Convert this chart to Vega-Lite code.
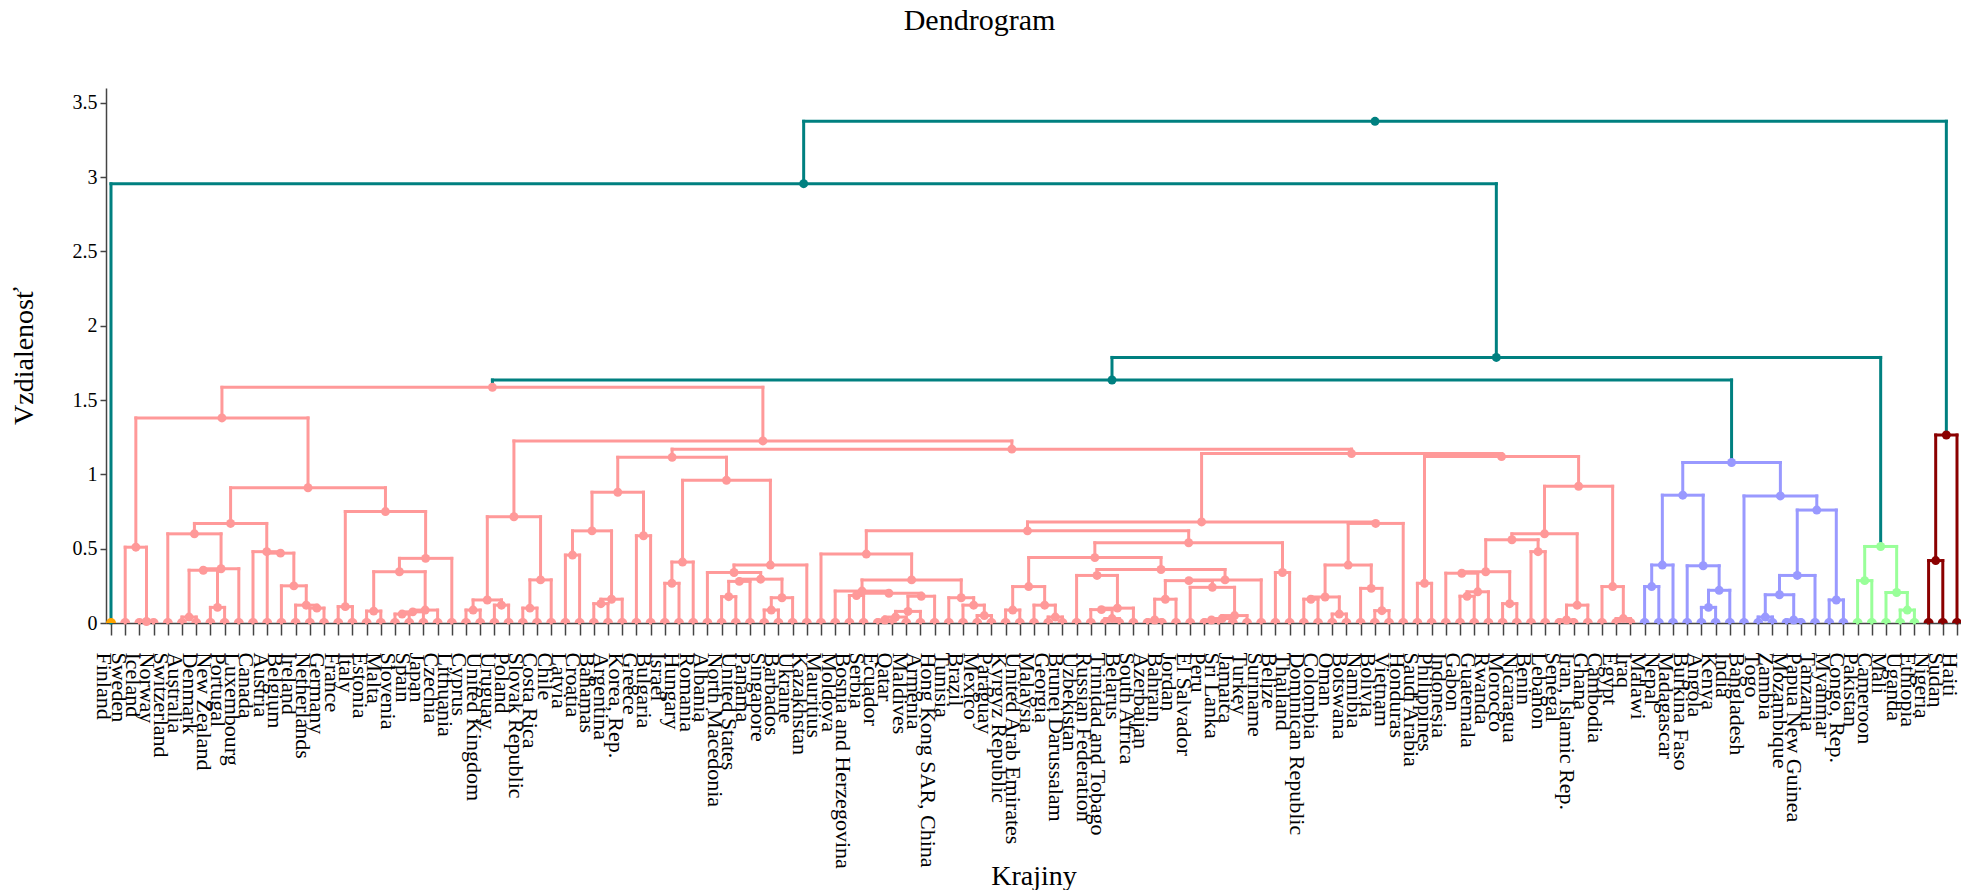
{
"$schema":"https://vega.github.io/schema/vega-lite/v6.json",
"width":1855,"height":535,
"autosize":{"type":"none"},
"padding":{"left":106,"top":88,"right":0,"bottom":267},
"background":"white",
"title":{"text":"Dendrogram","font":"Liberation Serif","fontSize":30,"fontWeight":"normal","color":"#000","frame":"group","anchor":"middle","dx":-54,"baseline":"alphabetic","offset":28},
"config":{"view":{"stroke":null},"font":"Liberation Serif"},
"data":{"values":[
{"x":0,"h":0,"px":48.7794,"ph":2.956,"g":"o","lg":"t","k":"l"},
{"x":1,"h":0,"px":1.75,"ph":0.51,"g":"p","lg":"p","k":"l"},
{"x":2,"h":0,"px":2.5,"ph":0.01,"g":"p","lg":"p","k":"l"},
{"x":3,"h":0,"px":2.5,"ph":0.01,"g":"p","lg":"p","k":"l"},
{"x":4,"h":0,"px":5.875,"ph":0.6,"g":"p","lg":"p","k":"l"},
{"x":5,"h":0,"px":5.5,"ph":0.04,"g":"p","lg":"p","k":"l"},
{"x":6,"h":0,"px":5.5,"ph":0.04,"g":"p","lg":"p","k":"l"},
{"x":7,"h":0,"px":7.5,"ph":0.105,"g":"p","lg":"p","k":"l"},
{"x":8,"h":0,"px":7.5,"ph":0.105,"g":"p","lg":"p","k":"l"},
{"x":9,"h":0,"px":7.75,"ph":0.365,"g":"p","lg":"p","k":"l"},
{"x":10,"h":0,"px":10.96875,"ph":0.48,"g":"p","lg":"p","k":"l"},
{"x":11,"h":0,"px":11.9375,"ph":0.47,"g":"p","lg":"p","k":"l"},
{"x":12,"h":0,"px":12.875,"ph":0.25,"g":"p","lg":"p","k":"l"},
{"x":13,"h":0,"px":13.75,"ph":0.12,"g":"p","lg":"p","k":"l"},
{"x":14,"h":0,"px":14.5,"ph":0.1,"g":"p","lg":"p","k":"l"},
{"x":15,"h":0,"px":14.5,"ph":0.1,"g":"p","lg":"p","k":"l"},
{"x":16,"h":0,"px":16.5,"ph":0.11,"g":"p","lg":"p","k":"l"},
{"x":17,"h":0,"px":16.5,"ph":0.11,"g":"p","lg":"p","k":"l"},
{"x":18,"h":0,"px":18.5,"ph":0.08,"g":"p","lg":"p","k":"l"},
{"x":19,"h":0,"px":18.5,"ph":0.08,"g":"p","lg":"p","k":"l"},
{"x":20,"h":0,"px":20.5,"ph":0.06,"g":"p","lg":"p","k":"l"},
{"x":21,"h":0,"px":20.5,"ph":0.06,"g":"p","lg":"p","k":"l"},
{"x":22,"h":0,"px":21.25,"ph":0.075,"g":"p","lg":"p","k":"l"},
{"x":23,"h":0,"px":22.125,"ph":0.087,"g":"p","lg":"p","k":"l"},
{"x":24,"h":0,"px":22.15625,"ph":0.435,"g":"p","lg":"p","k":"l"},
{"x":25,"h":0,"px":25.5,"ph":0.087,"g":"p","lg":"p","k":"l"},
{"x":26,"h":0,"px":25.5,"ph":0.087,"g":"p","lg":"p","k":"l"},
{"x":27,"h":0,"px":27.5,"ph":0.12,"g":"p","lg":"p","k":"l"},
{"x":28,"h":0,"px":27.5,"ph":0.12,"g":"p","lg":"p","k":"l"},
{"x":29,"h":0,"px":29.5,"ph":0.1,"g":"p","lg":"p","k":"l"},
{"x":30,"h":0,"px":29.5,"ph":0.1,"g":"p","lg":"p","k":"l"},
{"x":31,"h":0,"px":30.25,"ph":0.29,"g":"p","lg":"p","k":"l"},
{"x":32,"h":0,"px":32.5,"ph":0.457,"g":"p","lg":"p","k":"l"},
{"x":33,"h":0,"px":32.5,"ph":0.457,"g":"p","lg":"p","k":"l"},
{"x":34,"h":0,"px":34.5,"ph":0.13,"g":"p","lg":"p","k":"l"},
{"x":35,"h":0,"px":34.5,"ph":0.13,"g":"p","lg":"p","k":"l"},
{"x":36,"h":0,"px":35.25,"ph":0.16,"g":"p","lg":"p","k":"l"},
{"x":37,"h":0,"px":37.5,"ph":0.587,"g":"p","lg":"p","k":"l"},
{"x":38,"h":0,"px":37.5,"ph":0.587,"g":"p","lg":"p","k":"l"},
{"x":39,"h":0,"px":39.5,"ph":0.267,"g":"p","lg":"p","k":"l"},
{"x":40,"h":0,"px":39.5,"ph":0.267,"g":"p","lg":"p","k":"l"},
{"x":41,"h":0,"px":40.25,"ph":0.41,"g":"p","lg":"p","k":"l"},
{"x":42,"h":0,"px":43.875,"ph":0.34,"g":"p","lg":"p","k":"l"},
{"x":43,"h":0,"px":43.5,"ph":0.177,"g":"p","lg":"p","k":"l"},
{"x":44,"h":0,"px":43.5,"ph":0.177,"g":"p","lg":"p","k":"l"},
{"x":45,"h":0,"px":44.25,"ph":0.28,"g":"p","lg":"p","k":"l"},
{"x":46,"h":0,"px":46.5,"ph":0.087,"g":"p","lg":"p","k":"l"},
{"x":47,"h":0,"px":46.5,"ph":0.087,"g":"p","lg":"p","k":"l"},
{"x":48,"h":0,"px":47.25,"ph":0.17,"g":"p","lg":"p","k":"l"},
{"x":49,"h":0,"px":46.4375,"ph":0.39,"g":"p","lg":"p","k":"l"},
{"x":50,"h":0,"px":53.1914,"ph":0.464,"g":"p","lg":"p","k":"l"},
{"x":51,"h":0,"px":52.8906,"ph":0.215,"g":"p","lg":"p","k":"l"},
{"x":52,"h":0,"px":52.5,"ph":0.185,"g":"p","lg":"p","k":"l"},
{"x":53,"h":0,"px":52.5,"ph":0.185,"g":"p","lg":"p","k":"l"},
{"x":54,"h":0,"px":54.5,"ph":0.02,"g":"p","lg":"p","k":"l"},
{"x":55,"h":0,"px":54.5,"ph":0.02,"g":"p","lg":"p","k":"l"},
{"x":56,"h":0,"px":55.25,"ph":0.04,"g":"p","lg":"p","k":"l"},
{"x":57,"h":0,"px":56.125,"ph":0.078,"g":"p","lg":"p","k":"l"},
{"x":58,"h":0,"px":57.0625,"ph":0.18,"g":"p","lg":"p","k":"l"},
{"x":59,"h":0,"px":59.875,"ph":0.17,"g":"p","lg":"p","k":"l"},
{"x":60,"h":0,"px":60.75,"ph":0.12,"g":"p","lg":"p","k":"l"},
{"x":61,"h":0,"px":61.5,"ph":0.05,"g":"p","lg":"p","k":"l"},
{"x":62,"h":0,"px":61.5,"ph":0.05,"g":"p","lg":"p","k":"l"},
{"x":63,"h":0,"px":63.5,"ph":0.087,"g":"p","lg":"p","k":"l"},
{"x":64,"h":0,"px":63.5,"ph":0.087,"g":"p","lg":"p","k":"l"},
{"x":65,"h":0,"px":65.75,"ph":0.12,"g":"p","lg":"p","k":"l"},
{"x":66,"h":0,"px":66.5,"ph":0.04,"g":"p","lg":"p","k":"l"},
{"x":67,"h":0,"px":66.5,"ph":0.04,"g":"p","lg":"p","k":"l"},
{"x":68,"h":0,"px":69.4375,"ph":0.32,"g":"p","lg":"p","k":"l"},
{"x":69,"h":0,"px":69.75,"ph":0.09,"g":"p","lg":"p","k":"l"},
{"x":70,"h":0,"px":70.5,"ph":0.03,"g":"p","lg":"p","k":"l"},
{"x":71,"h":0,"px":70.5,"ph":0.03,"g":"p","lg":"p","k":"l"},
{"x":72,"h":0,"px":70.875,"ph":0.1,"g":"p","lg":"p","k":"l"},
{"x":73,"h":0,"px":73.5,"ph":0.02,"g":"p","lg":"p","k":"l"},
{"x":74,"h":0,"px":73.5,"ph":0.02,"g":"p","lg":"p","k":"l"},
{"x":75,"h":0,"px":74.25,"ph":0.16,"g":"p","lg":"p","k":"l"},
{"x":76,"h":0,"px":77.5625,"ph":0.24,"g":"p","lg":"p","k":"l"},
{"x":77,"h":0,"px":77.5,"ph":0.02,"g":"p","lg":"p","k":"l"},
{"x":78,"h":0,"px":77.5,"ph":0.02,"g":"p","lg":"p","k":"l"},
{"x":79,"h":0,"px":78.25,"ph":0.03,"g":"p","lg":"p","k":"l"},
{"x":80,"h":0,"px":79.125,"ph":0.05,"g":"p","lg":"p","k":"l"},
{"x":81,"h":0,"px":78.4531,"ph":0.29,"g":"p","lg":"p","k":"l"},
{"x":82,"h":0,"px":82.5,"ph":0.34,"g":"p","lg":"p","k":"l"},
{"x":83,"h":0,"px":82.5,"ph":0.34,"g":"p","lg":"p","k":"l"},
{"x":84,"h":0,"px":84.5,"ph":0.16,"g":"p","lg":"p","k":"l"},
{"x":85,"h":0,"px":84.5,"ph":0.16,"g":"p","lg":"p","k":"l"},
{"x":86,"h":0,"px":86.5,"ph":0.06,"g":"p","lg":"p","k":"l"},
{"x":87,"h":0,"px":86.5,"ph":0.06,"g":"p","lg":"p","k":"l"},
{"x":88,"h":0,"px":88.75,"ph":0.233,"g":"p","lg":"p","k":"l"},
{"x":89,"h":0,"px":89.5,"ph":0.083,"g":"p","lg":"p","k":"l"},
{"x":90,"h":0,"px":89.5,"ph":0.083,"g":"p","lg":"p","k":"l"},
{"x":91,"h":0,"px":89.0625,"ph":0.67,"g":"p","lg":"p","k":"l"},
{"x":92,"h":0,"px":92.5,"ph":0.267,"g":"p","lg":"p","k":"l"},
{"x":93,"h":0,"px":92.5,"ph":0.267,"g":"p","lg":"p","k":"l"},
{"x":94,"h":0,"px":95.125,"ph":0.335,"g":"p","lg":"p","k":"l"},
{"x":95,"h":0,"px":95.5,"ph":0.18,"g":"p","lg":"p","k":"l"},
{"x":96,"h":0,"px":95.5,"ph":0.18,"g":"p","lg":"p","k":"l"},
{"x":97,"h":0,"px":96.25,"ph":0.21,"g":"p","lg":"p","k":"l"},
{"x":98,"h":0,"px":98.5,"ph":0.13,"g":"p","lg":"p","k":"l"},
{"x":99,"h":0,"px":98.5,"ph":0.13,"g":"p","lg":"p","k":"l"},
{"x":100,"h":0,"px":100.5,"ph":0.48,"g":"p","lg":"p","k":"l"},
{"x":101,"h":0,"px":100.5,"ph":0.48,"g":"p","lg":"p","k":"l"},
{"x":102,"h":0,"px":102.5,"ph":0.02,"g":"p","lg":"p","k":"l"},
{"x":103,"h":0,"px":102.5,"ph":0.02,"g":"p","lg":"p","k":"l"},
{"x":104,"h":0,"px":103.25,"ph":0.12,"g":"p","lg":"p","k":"l"},
{"x":105,"h":0,"px":105.75,"ph":0.245,"g":"p","lg":"p","k":"l"},
{"x":106,"h":0,"px":106.5,"ph":0.03,"g":"p","lg":"p","k":"l"},
{"x":107,"h":0,"px":106.5,"ph":0.03,"g":"p","lg":"p","k":"l"},
{"x":108,"h":0,"px":108.5,"ph":0.245,"g":"b","lg":"b","k":"l"},
{"x":109,"h":0,"px":108.5,"ph":0.245,"g":"b","lg":"b","k":"l"},
{"x":110,"h":0,"px":109.25,"ph":0.39,"g":"b","lg":"b","k":"l"},
{"x":111,"h":0,"px":112.125,"ph":0.385,"g":"b","lg":"b","k":"l"},
{"x":112,"h":0,"px":112.5,"ph":0.105,"g":"b","lg":"b","k":"l"},
{"x":113,"h":0,"px":112.5,"ph":0.105,"g":"b","lg":"b","k":"l"},
{"x":114,"h":0,"px":113.25,"ph":0.22,"g":"b","lg":"b","k":"l"},
{"x":115,"h":0,"px":117.5625,"ph":0.855,"g":"b","lg":"b","k":"l"},
{"x":116,"h":0,"px":116.5,"ph":0.04,"g":"b","lg":"b","k":"l"},
{"x":117,"h":0,"px":116.5,"ph":0.04,"g":"b","lg":"b","k":"l"},
{"x":118,"h":0,"px":118.5,"ph":0.02,"g":"b","lg":"b","k":"l"},
{"x":119,"h":0,"px":118.5,"ph":0.02,"g":"b","lg":"b","k":"l"},
{"x":120,"h":0,"px":118.75,"ph":0.32,"g":"b","lg":"b","k":"l"},
{"x":121,"h":0,"px":121.5,"ph":0.155,"g":"b","lg":"b","k":"l"},
{"x":122,"h":0,"px":121.5,"ph":0.155,"g":"b","lg":"b","k":"l"},
{"x":123,"h":0,"px":123.5,"ph":0.285,"g":"g","lg":"g","k":"l"},
{"x":124,"h":0,"px":123.5,"ph":0.285,"g":"g","lg":"g","k":"l"},
{"x":125,"h":0,"px":125.75,"ph":0.205,"g":"g","lg":"g","k":"l"},
{"x":126,"h":0,"px":126.5,"ph":0.087,"g":"g","lg":"g","k":"l"},
{"x":127,"h":0,"px":126.5,"ph":0.087,"g":"g","lg":"g","k":"l"},
{"x":128,"h":0,"px":128.5,"ph":0.42,"g":"r","lg":"r","k":"l"},
{"x":129,"h":0,"px":128.5,"ph":0.42,"g":"r","lg":"r","k":"l"},
{"x":130,"h":0,"px":129.25,"ph":1.265,"g":"r","lg":"r","k":"l"},
{"x":2.5,"h":0.01,"px":1.75,"ph":0.51,"g":"p","lg":"p","k":"i"},
{"x":1.75,"h":0.51,"px":7.8125,"ph":1.38,"g":"p","lg":"p","k":"i"},
{"x":5.5,"h":0.04,"px":6.5,"ph":0.355,"g":"p","lg":"p","k":"i"},
{"x":7.5,"h":0.105,"px":6.5,"ph":0.355,"g":"p","lg":"p","k":"i"},
{"x":6.5,"h":0.355,"px":7.75,"ph":0.365,"g":"p","lg":"p","k":"i"},
{"x":7.75,"h":0.365,"px":5.875,"ph":0.6,"g":"p","lg":"p","k":"i"},
{"x":5.875,"h":0.6,"px":8.421875,"ph":0.67,"g":"p","lg":"p","k":"i"},
{"x":14.5,"h":0.1,"px":13.75,"ph":0.12,"g":"p","lg":"p","k":"i"},
{"x":13.75,"h":0.12,"px":12.875,"ph":0.25,"g":"p","lg":"p","k":"i"},
{"x":12.875,"h":0.25,"px":11.9375,"ph":0.47,"g":"p","lg":"p","k":"i"},
{"x":11.9375,"h":0.47,"px":10.96875,"ph":0.48,"g":"p","lg":"p","k":"i"},
{"x":10.96875,"h":0.48,"px":8.421875,"ph":0.67,"g":"p","lg":"p","k":"i"},
{"x":8.421875,"h":0.67,"px":13.875,"ph":0.91,"g":"p","lg":"p","k":"i"},
{"x":16.5,"h":0.11,"px":19.328125,"ph":0.75,"g":"p","lg":"p","k":"i"},
{"x":18.5,"h":0.08,"px":20.3125,"ph":0.345,"g":"p","lg":"p","k":"i"},
{"x":20.5,"h":0.06,"px":21.25,"ph":0.075,"g":"p","lg":"p","k":"i"},
{"x":21.25,"h":0.075,"px":22.125,"ph":0.087,"g":"p","lg":"p","k":"i"},
{"x":22.125,"h":0.087,"px":20.3125,"ph":0.345,"g":"p","lg":"p","k":"i"},
{"x":20.3125,"h":0.345,"px":22.15625,"ph":0.435,"g":"p","lg":"p","k":"i"},
{"x":22.15625,"h":0.435,"px":19.328125,"ph":0.75,"g":"p","lg":"p","k":"i"},
{"x":19.328125,"h":0.75,"px":13.875,"ph":0.91,"g":"p","lg":"p","k":"i"},
{"x":13.875,"h":0.91,"px":7.8125,"ph":1.38,"g":"p","lg":"p","k":"i"},
{"x":7.8125,"h":1.38,"px":26.86,"ph":1.586,"g":"p","lg":"p","k":"i"},
{"x":25.5,"h":0.087,"px":26.5,"ph":0.155,"g":"p","lg":"p","k":"i"},
{"x":27.5,"h":0.12,"px":26.5,"ph":0.155,"g":"p","lg":"p","k":"i"},
{"x":26.5,"h":0.155,"px":28.375,"ph":0.715,"g":"p","lg":"p","k":"i"},
{"x":29.5,"h":0.1,"px":30.25,"ph":0.29,"g":"p","lg":"p","k":"i"},
{"x":30.25,"h":0.29,"px":28.375,"ph":0.715,"g":"p","lg":"p","k":"i"},
{"x":28.375,"h":0.715,"px":45.9074,"ph":1.225,"g":"p","lg":"p","k":"i"},
{"x":32.5,"h":0.457,"px":33.875,"ph":0.62,"g":"p","lg":"p","k":"i"},
{"x":34.5,"h":0.13,"px":35.25,"ph":0.16,"g":"p","lg":"p","k":"i"},
{"x":35.25,"h":0.16,"px":33.875,"ph":0.62,"g":"p","lg":"p","k":"i"},
{"x":33.875,"h":0.62,"px":35.6875,"ph":0.88,"g":"p","lg":"p","k":"i"},
{"x":37.5,"h":0.587,"px":35.6875,"ph":0.88,"g":"p","lg":"p","k":"i"},
{"x":35.6875,"h":0.88,"px":39.515625,"ph":1.115,"g":"p","lg":"p","k":"i"},
{"x":39.5,"h":0.267,"px":40.25,"ph":0.41,"g":"p","lg":"p","k":"i"},
{"x":40.25,"h":0.41,"px":43.34375,"ph":0.96,"g":"p","lg":"p","k":"i"},
{"x":43.5,"h":0.177,"px":44.25,"ph":0.28,"g":"p","lg":"p","k":"i"},
{"x":44.25,"h":0.28,"px":45.75,"ph":0.295,"g":"p","lg":"p","k":"i"},
{"x":46.5,"h":0.087,"px":47.25,"ph":0.17,"g":"p","lg":"p","k":"i"},
{"x":47.25,"h":0.17,"px":45.75,"ph":0.295,"g":"p","lg":"p","k":"i"},
{"x":45.75,"h":0.295,"px":43.875,"ph":0.34,"g":"p","lg":"p","k":"i"},
{"x":43.875,"h":0.34,"px":46.4375,"ph":0.39,"g":"p","lg":"p","k":"i"},
{"x":46.4375,"h":0.39,"px":43.34375,"ph":0.96,"g":"p","lg":"p","k":"i"},
{"x":43.34375,"h":0.96,"px":39.515625,"ph":1.115,"g":"p","lg":"p","k":"i"},
{"x":39.515625,"h":1.115,"px":63.4398,"ph":1.17,"g":"p","lg":"p","k":"i"},
{"x":63.4398,"h":1.17,"px":45.9074,"ph":1.225,"g":"p","lg":"p","k":"i"},
{"x":45.9074,"h":1.225,"px":26.86,"ph":1.586,"g":"p","lg":"p","k":"i"},
{"x":87.364,"h":1.14,"px":63.4398,"ph":1.17,"g":"p","lg":"p","k":"i"},
{"x":76.8022,"h":0.68,"px":87.364,"ph":1.14,"g":"p","lg":"p","k":"i"},
{"x":64.542,"h":0.62,"px":76.8022,"ph":0.68,"g":"p","lg":"p","k":"i"},
{"x":53.1914,"h":0.464,"px":64.542,"ph":0.62,"g":"p","lg":"p","k":"i"},
{"x":56.3828,"h":0.29,"px":53.1914,"ph":0.464,"g":"p","lg":"p","k":"i"},
{"x":52.8906,"h":0.215,"px":56.3828,"ph":0.29,"g":"p","lg":"p","k":"i"},
{"x":54.7813,"h":0.2,"px":52.8906,"ph":0.215,"g":"p","lg":"p","k":"i"},
{"x":52.5,"h":0.185,"px":54.7813,"ph":0.2,"g":"p","lg":"p","k":"i"},
{"x":57.0625,"h":0.18,"px":54.7813,"ph":0.2,"g":"p","lg":"p","k":"i"},
{"x":54.5,"h":0.02,"px":55.25,"ph":0.04,"g":"p","lg":"p","k":"i"},
{"x":55.25,"h":0.04,"px":56.125,"ph":0.078,"g":"p","lg":"p","k":"i"},
{"x":56.125,"h":0.078,"px":57.0625,"ph":0.18,"g":"p","lg":"p","k":"i"},
{"x":59.875,"h":0.17,"px":56.3828,"ph":0.29,"g":"p","lg":"p","k":"i"},
{"x":60.75,"h":0.12,"px":59.875,"ph":0.17,"g":"p","lg":"p","k":"i"},
{"x":61.5,"h":0.05,"px":60.75,"ph":0.12,"g":"p","lg":"p","k":"i"},
{"x":75.8926,"h":0.54,"px":64.542,"ph":0.62,"g":"p","lg":"p","k":"i"},
{"x":69.2852,"h":0.44,"px":75.8926,"ph":0.54,"g":"p","lg":"p","k":"i"},
{"x":64.625,"h":0.245,"px":69.2852,"ph":0.44,"g":"p","lg":"p","k":"i"},
{"x":63.5,"h":0.087,"px":64.625,"ph":0.245,"g":"p","lg":"p","k":"i"},
{"x":65.75,"h":0.12,"px":64.625,"ph":0.245,"g":"p","lg":"p","k":"i"},
{"x":66.5,"h":0.04,"px":65.75,"ph":0.12,"g":"p","lg":"p","k":"i"},
{"x":73.9453,"h":0.36,"px":69.2852,"ph":0.44,"g":"p","lg":"p","k":"i"},
{"x":69.4375,"h":0.32,"px":73.9453,"ph":0.36,"g":"p","lg":"p","k":"i"},
{"x":70.875,"h":0.1,"px":69.4375,"ph":0.32,"g":"p","lg":"p","k":"i"},
{"x":69.75,"h":0.09,"px":70.875,"ph":0.1,"g":"p","lg":"p","k":"i"},
{"x":70.5,"h":0.03,"px":69.75,"ph":0.09,"g":"p","lg":"p","k":"i"},
{"x":78.4531,"h":0.29,"px":73.9453,"ph":0.36,"g":"p","lg":"p","k":"i"},
{"x":75.9063,"h":0.285,"px":78.4531,"ph":0.29,"g":"p","lg":"p","k":"i"},
{"x":74.25,"h":0.16,"px":75.9063,"ph":0.285,"g":"p","lg":"p","k":"i"},
{"x":73.5,"h":0.02,"px":74.25,"ph":0.16,"g":"p","lg":"p","k":"i"},
{"x":77.5625,"h":0.24,"px":75.9063,"ph":0.285,"g":"p","lg":"p","k":"i"},
{"x":79.125,"h":0.05,"px":77.5625,"ph":0.24,"g":"p","lg":"p","k":"i"},
{"x":78.25,"h":0.03,"px":79.125,"ph":0.05,"g":"p","lg":"p","k":"i"},
{"x":77.5,"h":0.02,"px":78.25,"ph":0.03,"g":"p","lg":"p","k":"i"},
{"x":82.5,"h":0.34,"px":75.8926,"ph":0.54,"g":"p","lg":"p","k":"i"},
{"x":89.0625,"h":0.67,"px":76.8022,"ph":0.68,"g":"p","lg":"p","k":"i"},
{"x":87.125,"h":0.39,"px":89.0625,"ph":0.67,"g":"p","lg":"p","k":"i"},
{"x":85.5,"h":0.175,"px":87.125,"ph":0.39,"g":"p","lg":"p","k":"i"},
{"x":84.5,"h":0.16,"px":85.5,"ph":0.175,"g":"p","lg":"p","k":"i"},
{"x":86.5,"h":0.06,"px":85.5,"ph":0.175,"g":"p","lg":"p","k":"i"},
{"x":88.75,"h":0.233,"px":87.125,"ph":0.39,"g":"p","lg":"p","k":"i"},
{"x":89.5,"h":0.083,"px":88.75,"ph":0.233,"g":"p","lg":"p","k":"i"},
{"x":97.9258,"h":1.12,"px":87.364,"ph":1.14,"g":"p","lg":"p","k":"i"},
{"x":92.5,"h":0.267,"px":97.9258,"ph":1.12,"g":"p","lg":"p","k":"i"},
{"x":103.3516,"h":0.92,"px":97.9258,"ph":1.12,"g":"p","lg":"p","k":"i"},
{"x":100.9531,"h":0.6,"px":103.3516,"ph":0.92,"g":"p","lg":"p","k":"i"},
{"x":98.6563,"h":0.56,"px":100.9531,"ph":0.6,"g":"p","lg":"p","k":"i"},
{"x":96.8125,"h":0.345,"px":98.6563,"ph":0.56,"g":"p","lg":"p","k":"i"},
{"x":95.125,"h":0.335,"px":96.8125,"ph":0.345,"g":"p","lg":"p","k":"i"},
{"x":96.25,"h":0.21,"px":95.125,"ph":0.335,"g":"p","lg":"p","k":"i"},
{"x":95.5,"h":0.18,"px":96.25,"ph":0.21,"g":"p","lg":"p","k":"i"},
{"x":98.5,"h":0.13,"px":96.8125,"ph":0.345,"g":"p","lg":"p","k":"i"},
{"x":100.5,"h":0.48,"px":98.6563,"ph":0.56,"g":"p","lg":"p","k":"i"},
{"x":103.25,"h":0.12,"px":100.9531,"ph":0.6,"g":"p","lg":"p","k":"i"},
{"x":102.5,"h":0.02,"px":103.25,"ph":0.12,"g":"p","lg":"p","k":"i"},
{"x":105.75,"h":0.245,"px":103.3516,"ph":0.92,"g":"p","lg":"p","k":"i"},
{"x":106.5,"h":0.03,"px":105.75,"ph":0.245,"g":"p","lg":"p","k":"i"},
{"x":26.86,"h":1.586,"px":70.4925,"ph":1.635,"g":"p","lg":"t","k":"i"},
{"x":108.5,"h":0.245,"px":109.25,"ph":0.39,"g":"b","lg":"b","k":"i"},
{"x":109.25,"h":0.39,"px":110.6875,"ph":0.86,"g":"b","lg":"b","k":"i"},
{"x":112.5,"h":0.105,"px":113.25,"ph":0.22,"g":"b","lg":"b","k":"i"},
{"x":113.25,"h":0.22,"px":112.125,"ph":0.385,"g":"b","lg":"b","k":"i"},
{"x":112.125,"h":0.385,"px":110.6875,"ph":0.86,"g":"b","lg":"b","k":"i"},
{"x":110.6875,"h":0.86,"px":114.125,"ph":1.08,"g":"b","lg":"b","k":"i"},
{"x":116.5,"h":0.04,"px":117.5,"ph":0.19,"g":"b","lg":"b","k":"i"},
{"x":118.5,"h":0.02,"px":117.5,"ph":0.19,"g":"b","lg":"b","k":"i"},
{"x":117.5,"h":0.19,"px":118.75,"ph":0.32,"g":"b","lg":"b","k":"i"},
{"x":118.75,"h":0.32,"px":120.125,"ph":0.76,"g":"b","lg":"b","k":"i"},
{"x":121.5,"h":0.155,"px":120.125,"ph":0.76,"g":"b","lg":"b","k":"i"},
{"x":120.125,"h":0.76,"px":117.5625,"ph":0.855,"g":"b","lg":"b","k":"i"},
{"x":117.5625,"h":0.855,"px":114.125,"ph":1.08,"g":"b","lg":"b","k":"i"},
{"x":114.125,"h":1.08,"px":70.4925,"ph":1.635,"g":"b","lg":"t","k":"i"},
{"x":123.5,"h":0.285,"px":124.625,"ph":0.515,"g":"g","lg":"g","k":"i"},
{"x":126.5,"h":0.087,"px":125.75,"ph":0.205,"g":"g","lg":"g","k":"i"},
{"x":125.75,"h":0.205,"px":124.625,"ph":0.515,"g":"g","lg":"g","k":"i"},
{"x":124.625,"h":0.515,"px":97.5587,"ph":1.787,"g":"g","lg":"t","k":"i"},
{"x":128.5,"h":0.42,"px":129.25,"ph":1.265,"g":"r","lg":"r","k":"i"},
{"x":129.25,"h":1.265,"px":89.0147,"ph":3.376,"g":"r","lg":"t","k":"i"},
{"x":70.4925,"h":1.635,"px":97.5587,"ph":1.787,"g":"t","lg":"t","k":"i"},
{"x":97.5587,"h":1.787,"px":48.7794,"ph":2.956,"g":"t","lg":"t","k":"i"},
{"x":48.7794,"h":2.956,"px":89.0147,"ph":3.376,"g":"t","lg":"t","k":"i"},
{"x":89.0147,"h":3.376,"px":89.0147,"ph":3.376,"g":"t","lg":"t","k":"i"}
]},
"encoding":{
  "x":{"field":"x","type":"quantitative","scale":{"domain":[-0.352,130.282],"nice":false,"zero":false},
   "axis":{"values":[0,1,2,3,4,5,6,7,8,9,10,11,12,13,14,15,16,17,18,19,20,21,22,23,24,25,26,27,28,29,30,31,32,33,34,35,36,37,38,39,40,41,42,43,44,45,46,47,48,49,50,51,52,53,54,55,56,57,58,59,60,61,62,63,64,65,66,67,68,69,70,71,72,73,74,75,76,77,78,79,80,81,82,83,84,85,86,87,88,89,90,91,92,93,94,95,96,97,98,99,100,101,102,103,104,105,106,107,108,109,110,111,112,113,114,115,116,117,118,119,120,121,122,123,124,125,126,127,128,129,130],
    "labelExpr":"['Finland','Sweden','Iceland','Norway','Switzerland','Australia','Denmark','New Zealand','Portugal','Luxembourg','Canada','Austria','Belgium','Ireland','Netherlands','Germany','France','Italy','Estonia','Malta','Slovenia','Spain','Japan','Czechia','Lithuania','Cyprus','United Kingdom','Uruguay','Poland','Slovak Republic','Costa Rica','Chile','Latvia','Croatia','Bahamas','Argentina','Korea, Rep.','Greece','Bulgaria','Israel','Hungary','Romania','Albania','North Macedonia','United States','Panama','Singapore','Barbados','Ukraine','Kazakhstan','Mauritius','Moldova','Bosnia and Herzegovina','Serbia','Ecuador','Qatar','Maldives','Armenia','Hong Kong SAR, China','Tunisia','Brazil','Mexico','Paraguay','Kyrgyz Republic','United Arab Emirates','Malaysia','Georgia','Brunei Darussalam','Uzbekistan','Russian Federation','Trinidad and Tobago','Belarus','South Africa','Azerbaijan','Bahrain','Jordan','El Salvador','Peru','Sri Lanka','Jamaica','Turkey','Suriname','Belize','Thailand','Dominican Republic','Colombia','Oman','Botswana','Namibia','Bolivia','Vietnam','Honduras','Saudi Arabia','Philippines','Indonesia','Gabon','Guatemala','Rwanda','Morocco','Nicaragua','Benin','Lebanon','Senegal','Iran, Islamic Rep.','Ghana','Cambodia','Egypt','Iraq','Malawi','Nepal','Madagascar','Burkina Faso','Angola','Kenya','India','Bangladesh','Togo','Zambia','Mozambique','Papua New Guinea','Tanzania','Myanmar','Congo, Rep.','Pakistan','Cameroon','Mali','Uganda','Ethiopia','Nigeria','Sudan','Haiti'][datum.value]",
    "labelAngle":90,"labelAlign":"left","labelBaseline":"middle","labelFont":"Liberation Serif","labelFontSize":22,"labelColor":"#000","labelLimit":0,
    "labelOverlap":false,"labelFlush":false,"labelPadding":17,"labelOffset":-7,"tickSize":12,"tickColor":"#444","tickWidth":1.5,"domainColor":"#444","domainWidth":1.5,"grid":false,
    "title":"Krajiny","titleFont":"Liberation Serif","titleFontSize":28,"titleFontWeight":"normal","titleColor":"#000","titleBaseline":"alphabetic","titleY":261}},
  "y":{"field":"h","type":"quantitative","scale":{"domain":[0,3.6],"nice":false,"zero":true},
   "axis":{"values":[0,0.5,1,1.5,2,2.5,3,3.5],"format":"~g","labelFont":"Liberation Serif","labelFontSize":20,"labelColor":"#000","labelPadding":3,"tickSize":6,"tickColor":"#444","tickWidth":1.5,"domainColor":"#444","domainWidth":1.5,"grid":false,
    "title":"Vzdialenosť","titleFont":"Liberation Serif","titleFontSize":28,"titleFontWeight":"normal","titleColor":"#000","titleX":-68}},
  "color":{"field":"lg","type":"nominal","scale":{"domain":["t","p","b","g","r","o"],"range":["#008080","#ff9999","#9999ff","#99ff99","#8b0000","#ffa500"]},"legend":null}
},
"layer":[
{"mark":{"type":"rule","strokeWidth":3,"strokeCap":"square"},
 "encoding":{"y2":{"field":"ph"}}},
{"mark":{"type":"rule","strokeWidth":3,"strokeCap":"square"},
 "encoding":{
  "x2":{"field":"px"},
  "y":{"field":"ph","type":"quantitative","scale":{"domain":[0,3.6],"nice":false,"zero":true},
   "axis":{"values":[0,0.5,1,1.5,2,2.5,3,3.5],"format":"~g","labelFont":"Liberation Serif","labelFontSize":20,"labelColor":"#000","labelPadding":3,"tickSize":6,"tickColor":"#444","tickWidth":1.5,"domainColor":"#444","domainWidth":1.5,"grid":false,
    "title":"Vzdialenosť","titleFont":"Liberation Serif","titleFontSize":28,"titleFontWeight":"normal","titleColor":"#000","titleX":-68}}
 }},
{"transform":[{"filter":{"field":"k","equal":"i"}}],
 "mark":{"type":"circle","size":80,"opacity":1},
 "encoding":{
  "color":{"field":"g","type":"nominal","scale":{"domain":["t","p","b","g","r","o"],"range":["#008080","#ff9999","#9999ff","#99ff99","#8b0000","#ffa500"]},"legend":null}
 }},
{"transform":[{"filter":{"field":"k","equal":"l"}}],
 "mark":{"type":"circle","size":100,"opacity":1,"clip":true},
 "encoding":{
  "color":{"field":"g","type":"nominal","scale":{"domain":["t","p","b","g","r","o"],"range":["#008080","#ff9999","#9999ff","#99ff99","#8b0000","#ffa500"]},"legend":null}
 }}
]
}
